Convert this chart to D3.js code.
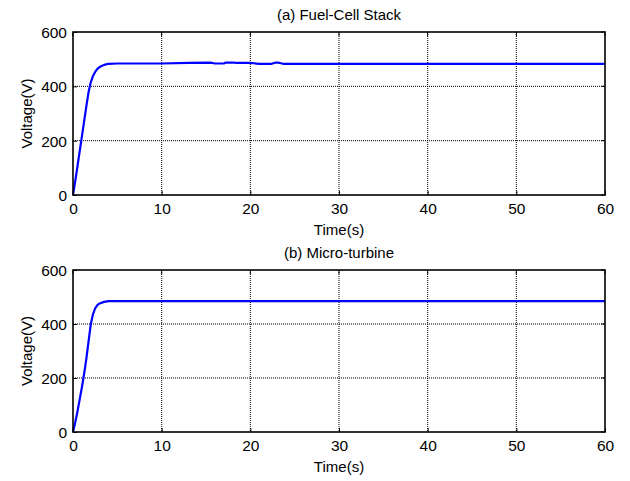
<!DOCTYPE html>
<html>
<head>
<meta charset="utf-8">
<script src="https://cdn.jsdelivr.net/npm/d3@7"></script>
<style>
  body { margin: 0; background: #fff; }
  svg text { font-family: "Liberation Sans", Arial, sans-serif; fill: #000; }
</style>
</head>
<body>
<svg id="chart" width="630" height="481"></svg>
<script>
// Datos
const timeTicks = [0, 10, 20, 30, 40, 50, 60];
const voltTicks = [0, 200, 400, 600];

const fuelCellT = [0, 0.25, 0.5, 0.75, 1, 1.25, 1.5, 1.75, 2, 2.25, 2.5, 2.75, 3, 3.5, 4, 5, 10, 13, 15.6, 16, 17, 17.2, 18.2, 18.5, 20, 21, 22.4, 22.8, 23.2, 23.7, 30, 40, 50, 60];
const fuelCellV = [0, 50, 105, 160, 215, 270, 325, 378, 415, 438, 453, 464, 471, 479, 483, 484, 484, 486, 487, 484, 484, 487, 487, 486, 486, 483, 483, 487, 487, 483, 483, 483, 483, 483];

const microT = [0, 0.25, 0.5, 0.75, 1, 1.25, 1.5, 1.75, 2, 2.25, 2.5, 2.75, 3, 3.5, 4, 10, 20, 30, 40, 50, 60];
const microV = [0, 35, 75, 120, 165, 215, 270, 335, 398, 436, 458, 470, 476, 482, 485, 485, 485, 485, 485, 485, 485];

const svg = d3.select("#chart");
const left = 73, right = 605;

// Función para dibujar un subgráfico
function drawPanel(top, bottom, title, times, volts) {
    const x = d3.scaleLinear().domain([0, 60]).range([left, right]);
    const y = d3.scaleLinear().domain([0, 600]).range([bottom, top]);
    const g = svg.append("g");

    // Rejilla punteada
    g.selectAll("line.gx")
        .data(timeTicks.slice(1, -1))
        .enter().append("line")
        .attr("x1", d => x(d)).attr("x2", d => x(d))
        .attr("y1", top).attr("y2", bottom)
        .attr("stroke", "#000").attr("stroke-width", 1)
        .attr("stroke-dasharray", "1,1");
    g.selectAll("line.gy")
        .data(voltTicks.slice(1, -1))
        .enter().append("line")
        .attr("x1", left).attr("x2", right)
        .attr("y1", d => y(d)).attr("y2", d => y(d))
        .attr("stroke", "#000").attr("stroke-width", 1)
        .attr("stroke-dasharray", "1,1");

    // Curva
    const line = d3.line()
        .x((d, i) => x(times[i]))
        .y(d => y(d));
    g.append("path")
        .datum(volts)
        .attr("d", line)
        .attr("fill", "none")
        .attr("stroke", "#0000ff")
        .attr("stroke-width", 2.2)
        .attr("stroke-linejoin", "round");

    // Ejes con marcas hacia adentro
    const xAxis = g.append("g")
        .attr("transform", `translate(0,${bottom})`)
        .call(d3.axisBottom(x).tickValues(timeTicks).tickSizeInner(-4).tickSizeOuter(0).tickPadding(8));
    const yAxis = g.append("g")
        .attr("transform", `translate(${left},0)`)
        .call(d3.axisLeft(y).tickValues(voltTicks).tickSizeInner(-4).tickSizeOuter(0).tickPadding(6));
    [xAxis, yAxis].forEach(a => {
        a.select(".domain").remove();
        a.selectAll("line").attr("stroke", "#000");
        a.selectAll("text").attr("font-size", 15.5).attr("font-family", null);
    });
    xAxis.selectAll("text").attr("dy", "0.71em");
    yAxis.selectAll("text").attr("dy", "0.36em");

    // Marcas superiores y derechas
    g.selectAll("line.tt")
        .data(timeTicks)
        .enter().append("line")
        .attr("x1", d => x(d)).attr("x2", d => x(d))
        .attr("y1", top).attr("y2", top + 4)
        .attr("stroke", "#000");
    g.selectAll("line.tr")
        .data(voltTicks)
        .enter().append("line")
        .attr("x1", right - 4).attr("x2", right)
        .attr("y1", d => y(d)).attr("y2", d => y(d))
        .attr("stroke", "#000");

    // Marco
    g.append("rect")
        .attr("x", left).attr("y", top)
        .attr("width", right - left).attr("height", bottom - top)
        .attr("fill", "none").attr("stroke", "#000").attr("stroke-width", 1.6);

    // Textos
    g.append("text")
        .attr("x", (left + right) / 2).attr("y", top - 12)
        .attr("text-anchor", "middle").attr("font-size", 15)
        .text(title);
    g.append("text")
        .attr("x", (left + right) / 2).attr("y", bottom + 40)
        .attr("text-anchor", "middle").attr("font-size", 15)
        .text("Time(s)");
    g.append("text")
        .attr("transform", `translate(32,${(top + bottom) / 2}) rotate(-90)`)
        .attr("text-anchor", "middle").attr("font-size", 15)
        .text("Voltage(V)");
}

drawPanel(32, 195, "(a) Fuel-Cell Stack", fuelCellT, fuelCellV);
drawPanel(270, 432, "(b) Micro-turbine", microT, microV);
</script>
</body>
</html>
